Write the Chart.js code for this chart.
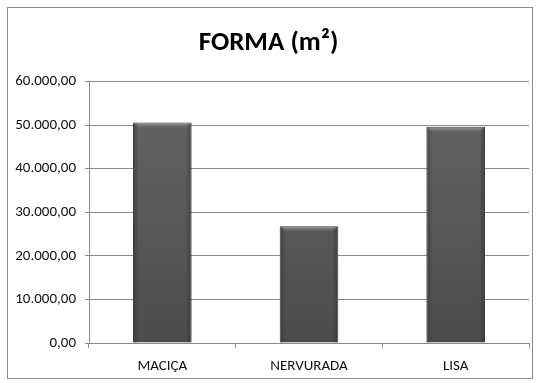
<!DOCTYPE html>
<html>
<head>
<meta charset="utf-8">
<script src="https://cdn.jsdelivr.net/npm/chart.js@4/dist/chart.umd.min.js"></script>
<style>
  html, body { margin: 0; padding: 0; background: #fff; }
  #wrap { width: 540px; height: 383px; position: relative; }
</style>
</head>
<body>
<div id="wrap"><canvas id="formaChart" width="540" height="383"></canvas></div>
<script>
// dados
const categorias = ["MACIÇA", "NERVURADA", "LISA"]
const valoresForma = [50600, 26800, 49600]
const yTicks = [0, 10000, 20000, 30000, 40000, 50000, 60000]
const titulo = "FORMA (m²)"

const FONT = "Carlito, 'Liberation Sans Narrow', 'Liberation Sans', sans-serif"

function formatBR(v) {
  let int = Math.round(v).toString()
  int = int.replace(/\B(?=(\d{3})+(?!\d))/g, ".")
  return int + ",00"
}

// moldura da area do grafico
const frame = {
  id: 'frame',
  beforeDraw(chart) {
    const ctx = chart.ctx
    ctx.save()
    ctx.fillStyle = '#fff'
    ctx.fillRect(0, 0, chart.width, chart.height)
    ctx.strokeStyle = '#8a8a8a'
    ctx.lineWidth = 1
    ctx.strokeRect(7.5, 7.5, 525, 371)
    ctx.restore()
  }
}

// brilho no topo das barras
const bevel = {
  id: 'bevel',
  afterDatasetsDraw(chart) {
    const ctx = chart.ctx
    chart.getDatasetMeta(0).data.forEach(bar => {
      const p = bar.getProps(['x', 'y', 'width', 'base'], true)
      const l = p.x - p.width / 2, r = p.x + p.width / 2
      ctx.save()
      let g = ctx.createLinearGradient(0, p.y, 0, p.y + 6)
      g.addColorStop(0, 'rgba(190,190,190,0.75)')
      g.addColorStop(1, 'rgba(120,120,120,0)')
      ctx.fillStyle = g
      ctx.beginPath()
      ctx.moveTo(l + 1, p.y + 1)
      ctx.lineTo(r - 1, p.y + 1)
      ctx.lineTo(r - 5, p.y + 6)
      ctx.lineTo(l + 5, p.y + 6)
      ctx.closePath()
      ctx.fill()
      // bordas laterais escuras
      let gl = ctx.createLinearGradient(l, 0, l + 6, 0)
      gl.addColorStop(0, 'rgba(40,40,40,0.5)')
      gl.addColorStop(1, 'rgba(40,40,40,0)')
      ctx.fillStyle = gl
      ctx.fillRect(l + 1, p.y + 1, 6, p.base - p.y - 1)
      let gr = ctx.createLinearGradient(r, 0, r - 6, 0)
      gr.addColorStop(0, 'rgba(40,40,40,0.5)')
      gr.addColorStop(1, 'rgba(40,40,40,0)')
      ctx.fillStyle = gr
      ctx.fillRect(r - 7, p.y + 1, 6, p.base - p.y - 1)
      ctx.restore()
    })
  }
}

function barFill(context) {
  const chart = context.chart
  const area = chart.chartArea
  if (!area) return '#5a5a5a'
  const g = chart.ctx.createLinearGradient(0, area.top, 0, area.bottom)
  g.addColorStop(0, '#666666')
  g.addColorStop(1, '#4c4c4c')
  return g
}

new Chart(document.getElementById('formaChart'), {
  type: 'bar',
  data: {
    labels: categorias,
    datasets: [{
      data: valoresForma,
      backgroundColor: barFill,
      borderColor: '#3c3c3c',
      borderWidth: 1,
      barPercentage: 0.4,
      categoryPercentage: 1
    }]
  },
  options: {
    responsive: false,
    animation: false,
    layout: { padding: { left: 8, right: 11, top: 0, bottom: 8 } },
    plugins: {
      legend: { display: false },
      tooltip: { enabled: false },
      title: {
        display: true,
        text: titulo,
        color: '#000',
        font: { family: FONT, size: 27, weight: 'bold' },
        padding: { top: 27, bottom: 22 }
      }
    },
    scales: {
      x: {
        grid: { display: true, drawOnChartArea: false, drawTicks: true, tickLength: 5, color: '#8a8a8a', offset: true },
        border: { color: '#8a8a8a' },
        ticks: { color: '#111', font: { family: FONT, size: 15 }, padding: 9 },
        afterFit(scale) { scale.height = 32 }
      },
      y: {
        min: 0,
        max: 60000,
        afterBuildTicks(scale) { scale.ticks = yTicks.map(v => ({ value: v })) },
        grid: { color: '#8a8a8a', tickLength: 4 },
        border: { color: '#8a8a8a' },
        ticks: { color: '#111', font: { family: FONT, size: 15 }, padding: 9, callback: v => formatBR(v) },
        afterFit(scale) { scale.width = 81 }
      }
    }
  },
  plugins: [frame, bevel]
})
</script>
</body>
</html>
